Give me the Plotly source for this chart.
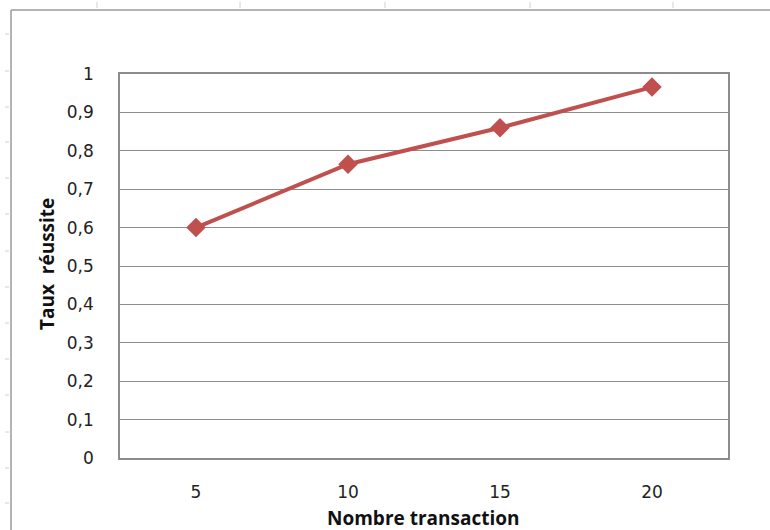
import plotly.graph_objects as go

# Data
categories = ["5", "10", "15", "20"]
taux_reussite = [0.60, 0.765, 0.86, 0.966]
y_ticks = [0, 0.1, 0.2, 0.3, 0.4, 0.5, 0.6, 0.7, 0.8, 0.9, 1]
y_tick_labels = ["0", "0,1", "0,2", "0,3", "0,4", "0,5", "0,6", "0,7", "0,8", "0,9", "1"]

W, H = 770, 530
RED = "#C0504D"
GRID = "#8c8c8c"
TICK_FONT = "DejaVu Sans"
TITLE_FONT = "Open Sans"

# plot area in pixels
px_left, px_right, px_top, px_bottom = 120, 728, 74, 458

fig = go.Figure()
fig.add_trace(go.Scatter(
    x=categories, y=taux_reussite, mode="lines+markers",
    line=dict(color=RED, width=4),
    marker=dict(symbol="diamond", size=15, color=RED),
    showlegend=False, hoverinfo="skip",
))

shapes = []
# sheet frame around the chart object
shapes.append(dict(type="line", xref="paper", yref="paper",
                   x0=11 / W, x1=1.0, y0=1 - 10 / H, y1=1 - 10 / H,
                   line=dict(color="#9a9a9a", width=1.5)))
shapes.append(dict(type="line", xref="paper", yref="paper",
                   x0=11 / W, x1=11 / W, y0=0, y1=1 - 10 / H,
                   line=dict(color="#9a9a9a", width=1.5)))
# sheet column / row ticks
for cx in [97, 240, 385, 530, 673]:
    shapes.append(dict(type="line", xref="paper", yref="paper",
                       x0=cx / W, x1=cx / W, y0=1 - 2 / H, y1=1 - 8 / H,
                       line=dict(color="#d0d0d0", width=1)))
for ry in [34, 71, 107, 142, 178, 214, 251, 287, 323, 359, 395, 432, 468, 503]:
    shapes.append(dict(type="line", xref="paper", yref="paper",
                       x0=5 / W, x1=9 / W, y0=1 - ry / H, y1=1 - ry / H,
                       line=dict(color="#d0d0d0", width=1)))

fig.update_layout(
    template="none",
    width=W, height=H,
    margin=dict(l=0, r=0, t=0, b=0, pad=0, autoexpand=False),
    paper_bgcolor="white", plot_bgcolor="white",
    font=dict(family=TICK_FONT, color="#222222", size=17),
    shapes=shapes,
    xaxis=dict(
        domain=[px_left / W, px_right / W],
        type="category", range=[-0.5, 3.5],
        automargin=False,
        showgrid=False, zeroline=False,
        showline=True, linecolor=GRID, linewidth=1.5, mirror=True,
        ticks="", ticklabelstandoff=18,
        tickfont=dict(family=TICK_FONT, size=17, color="#222222"),
    ),
    yaxis=dict(
        domain=[1 - px_bottom / H, 1 - px_top / H],
        range=[0, 1],
        automargin=False,
        tickvals=y_ticks, ticktext=y_tick_labels,
        showgrid=True, gridcolor=GRID, gridwidth=1.2,
        zeroline=False,
        showline=True, linecolor=GRID, linewidth=1.5, mirror=True,
        ticks="", ticklabelstandoff=21,
        tickfont=dict(family=TICK_FONT, size=17, color="#222222"),
    ),
    annotations=[
        dict(text="<b>Nombre transaction</b>", xref="paper", yref="paper",
             x=(px_left + px_right) / 2 / W, y=1 - 518 / H,
             xanchor="center", yanchor="middle", showarrow=False,
             font=dict(family=TITLE_FONT, size=19, color="#111111")),
        dict(text="<b>Taux&nbsp; réussite</b>", xref="paper", yref="paper",
             x=47 / W, y=1 - 264 / H, textangle=-90,
             xanchor="center", yanchor="middle", showarrow=False,
             font=dict(family=TITLE_FONT, size=19, color="#111111")),
    ],
)

fig.write_html(
    "out.html",
    post_script="document.body.style.margin='0';document.body.style.overflow='hidden';",
)
